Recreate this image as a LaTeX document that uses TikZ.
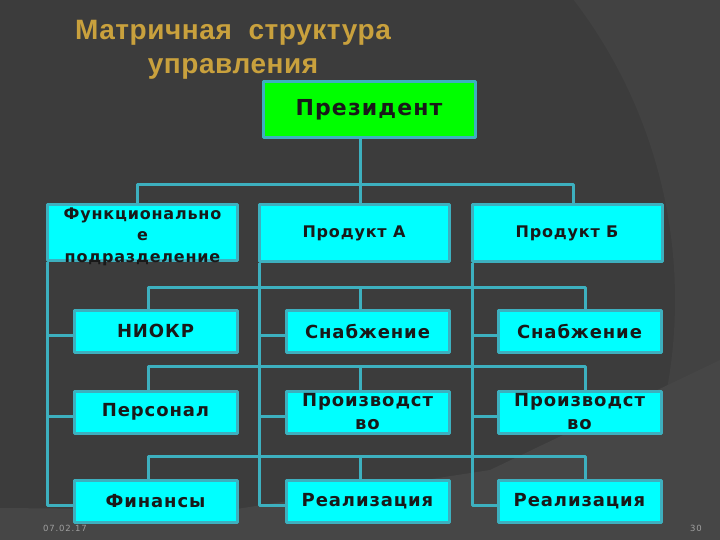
\documentclass[tikz,border=0pt]{standalone}
\usepackage{fontspec}
\setmainfont{DejaVu Sans}
\newfontfamily\boxfont[LetterSpace=5]{DejaVu Sans}
\newfontfamily\titlefont[LetterSpace=2]{Liberation Sans}
\newfontfamily\footfont[LetterSpace=10]{DejaVu Sans}
\definecolor{bgdark}{HTML}{3C3C3C}
\definecolor{bgarc}{HTML}{424242}
\definecolor{bgband}{HTML}{464646}
\definecolor{titlegold}{HTML}{C9A13D}
\definecolor{linecol}{HTML}{3DB0BF}
\definecolor{boxcyan}{HTML}{00FFFF}
\definecolor{boxgreen}{HTML}{00FF00}
\tikzset{
  conn/.style={draw=linecol, line width=3pt},
  unit/.style={draw=linecol, line width=3pt, fill=boxcyan, inner sep=0pt,
    minimum width=163pt, minimum height=42pt, align=center, text=black!90,
    font=\boxfont\bfseries\fontsize{18}{23}\selectfont},
  head/.style={unit, minimum width=190pt, minimum height=56pt,
    font=\boxfont\bfseries\fontsize{16}{21.5}\selectfont}
}
\begin{document}
\begin{tikzpicture}[x=1pt, y=-1pt, line join=round]
  \useasboundingbox (0,0) rectangle (720,540);
  % background
  \fill[bgdark] (0,0) rectangle (720,540);
  \begin{scope}
    \clip (0,0) rectangle (720,540);
    \fill[bgarc, even odd rule] (-400,-400) rectangle (1000,1000) (180,300) circle (495);
    \fill[bgband] (0,508) -- (230,510) -- (490,470) -- (720,360) -- (720,540) -- (0,540) -- cycle;
  \end{scope}
  % title
  \node[text=titlegold, font=\titlefont\bfseries\fontsize{28}{34}\selectfont, align=center]
    (title) at (233,50) {Матричная\ \ структура\\управления};
  % boxes
  \node[head, fill=boxgreen, minimum width=212pt, font=\boxfont\bfseries\fontsize{22}{24}\selectfont]
    (pres) at (369,110) {Президент};
  \node[head] (func) at (142.5,232.5)
    {\raisebox{-4pt}[\dimexpr\height-7pt\relax][\dimexpr\depth-7pt\relax]{\begin{tabular}{@{}c@{}}Функционально\\е\\подразделение\end{tabular}}};
  \node[head] (prodA) at (354,233) {Продукт А};
  \node[head] (prodB) at (567,233) {Продукт Б};
  \node[unit] (niokr) at (155.5,331) {НИОКР};
  \node[unit] (supA) at (367.5,331) {Снабжение};
  \node[unit] (supB) at (579.5,331) {Снабжение};
  \node[unit] (pers) at (155.5,412) {Персонал};
  \node[unit] (prodnA) at (367.5,412) {Производст\\во};
  \node[unit] (prodnB) at (579.5,412) {Производст\\во};
  \node[unit] (fin) at (155.5,501) {Финансы};
  \node[unit] (salesA) at (367.5,501) {Реализация};
  \node[unit] (salesB) at (579.5,501) {Реализация};
  % president to the column heads
  \coordinate (t1) at (137,185);
  \coordinate (t2) at (360,185);
  \coordinate (t3) at (573,185);
  \draw[conn] (pres.south -| t2) -- (t2) -- (prodA.north -| t2);
  \draw[conn] (func.north -| t1) -- (t1) -- (t3) -- (prodB.north -| t3);
  % row lines
  \foreach \l/\m/\r/\y in {niokr/supA/supB/287, pers/prodnA/prodnB/366, fin/salesA/salesB/456} {
    \coordinate (L) at (148,\y);
    \coordinate (M) at (360,\y);
    \coordinate (R) at (585,\y);
    \draw[conn] (\l.north -| L) -- (L) -- (R) -- (\r.north -| R);
    \draw[conn] (M) -- (\m.north -| M);
  }
  % column lines
  \foreach \h/\a/\b/\c in {func/niokr/pers/fin, prodA/supA/prodnA/salesA, prodB/supB/prodnB/salesB} {
    \coordinate (C) at ([xshift=1.5pt]\h.south west);
    \path ([yshift=-4pt]\a.west) coordinate (a1)
          ([yshift=-4pt]\b.west) coordinate (b1);
    \draw[conn] (C) |- ([yshift=-4pt]\c.west);
    \draw[conn] (a1 -| C) -- (a1);
    \draw[conn] (b1 -| C) -- (b1);
  }
  % footer
  \node[text=gray!75, font=\footfont\fontsize{8.5}{10}\selectfont] (date) at (65,528) {07.02.17};
  \node[text=gray!75, font=\footfont\fontsize{8.5}{10}\selectfont] (page) at (696,528) {30};
\end{tikzpicture}
\end{document}
